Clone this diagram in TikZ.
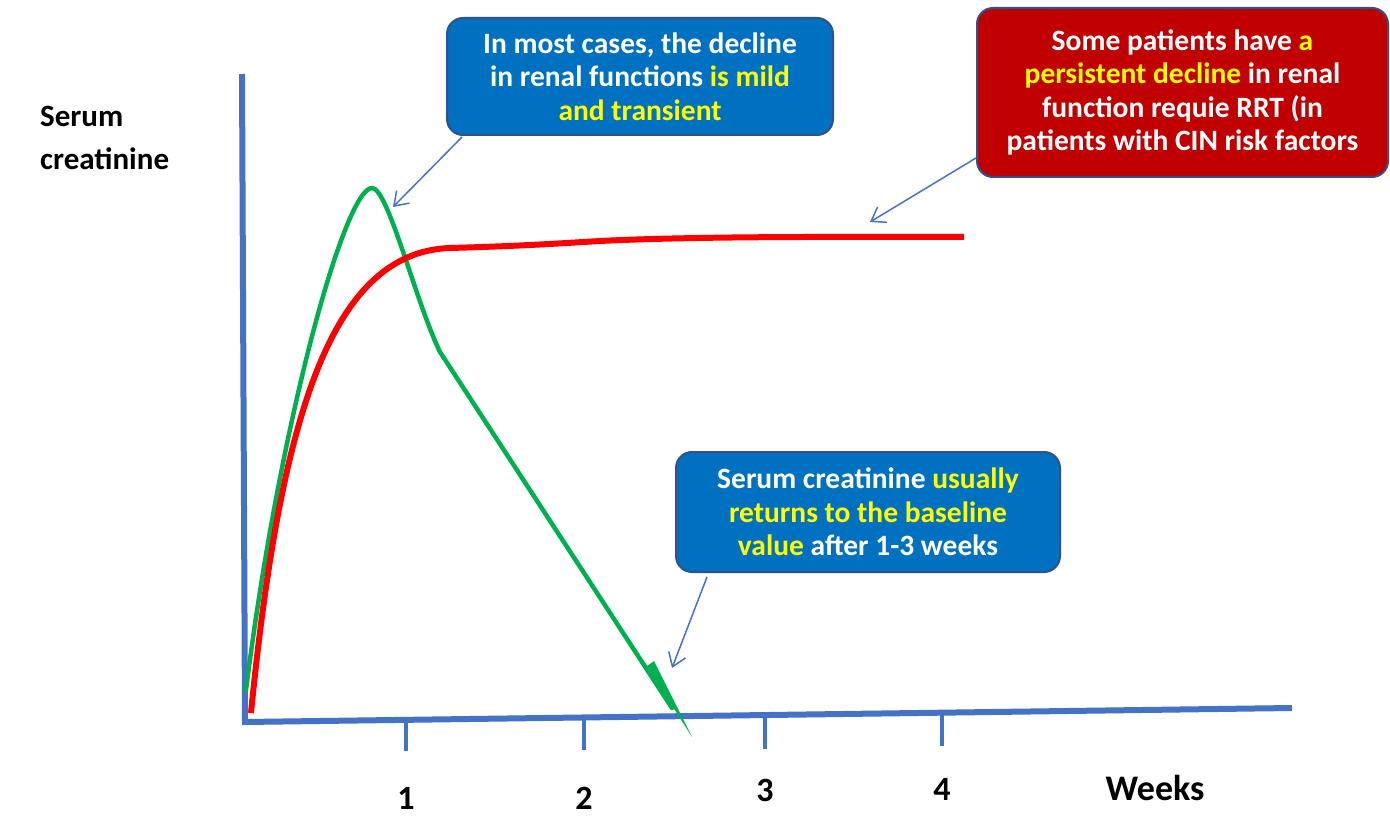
\documentclass[tikz,border=0pt]{standalone}
\usepackage{fontspec}
\setmainfont{Carlito}
\usetikzlibrary{arrows.meta}
\definecolor{axisblue}{HTML}{4472C4}
\definecolor{boxblue}{HTML}{0070C0}
\definecolor{boxred}{HTML}{C00000}
\definecolor{boxborder}{HTML}{2F528F}
\definecolor{curvegreen}{HTML}{00B050}
\definecolor{curvered}{HTML}{FF0000}
\definecolor{hl}{HTML}{FFFF00}
\tikzset{
  axisline/.style={draw=axisblue,line width=6pt},
  tickline/.style={draw=axisblue,line width=4pt},
  callout/.style={draw=boxborder,line width=2pt,rounded corners=16pt,text=white,align=center,
    font=\fontsize{29.5}{33.5}\selectfont\bfseries,inner sep=0pt},
  pointer/.style={draw=axisblue,line width=1.5pt,-{Straight Barb[length=13pt,width=18pt,line width=1.5pt]}},
  ticklabel/.style={font=\fontsize{34}{36}\selectfont\bfseries,text=black},
  axislabel/.style={font=\fontsize{31}{43}\selectfont\bfseries,text=black,align=left}
}
\begin{document}
\begin{tikzpicture}[x=1pt,y=-1pt]
\useasboundingbox (0,0) rectangle (1390,821);
% axes
\coordinate (ytop) at (242,74);
\coordinate (origin) at (245,722);
\coordinate (xend) at (1292,708);
\draw[axisline] (ytop) -- (origin) -- (xend);
% ticks
\coordinate (t1a) at (406,721); \coordinate (t1b) at (406,751);
\coordinate (t2a) at (584,719); \coordinate (t2b) at (584,750);
\coordinate (t3a) at (765,717); \coordinate (t3b) at (765,749);
\coordinate (t4a) at (942,715); \coordinate (t4b) at (942,746);
\draw[tickline] (t1a) -- (t1b);
\draw[tickline] (t2a) -- (t2b);
\draw[tickline] (t3a) -- (t3b);
\draw[tickline] (t4a) -- (t4b);
\node[ticklabel] (l1) at (406,798) {1};
\node[ticklabel] (l2) at (584,798) {2};
\node[ticklabel] (l3) at (765,790) {3};
\node[ticklabel] (l4) at (942,789) {4};
\node[ticklabel,font=\fontsize{36}{38}\selectfont\bfseries] (weeks) at (1155,788) {Weeks};
\node[axislabel,anchor=west,inner sep=0pt] (ylab) at (40,138) {Serum\\creatinine};
% green curve
\draw[curvegreen,line width=4.5pt,line cap=round] (246,690) .. controls (280,420) and (345,188) .. (372,188)
  .. controls (388,188) and (415,300) .. (440,352) -- (672,708);
\fill[curvegreen] (647,666) -- (654,661) -- (692,737) -- cycle;
% red curve
\draw[curvered,line width=6pt] (251,713) .. controls (280,420) and (330,252) .. (450,248)
  .. controls (520,246) and (550,244) .. (600,241)
  .. controls (700,236) and (850,237) .. (964,237);
% callouts
\node[callout,fill=boxblue,minimum width=386pt,minimum height=117pt] (c1) at (640,76.5)
  {In most cases, the decline\\in renal functions \textcolor{hl}{is mild}\\\textcolor{hl}{and transient}};
\node[callout,fill=boxred,minimum width=411pt,minimum height=169pt] (c2) at (1182.5,92.5)
  {Some patients have \textcolor{hl}{a}\\\textcolor{hl}{persistent decline} in renal\\function requie RRT (in\\patients with CIN risk factors};
\node[callout,fill=boxblue,minimum width=384pt,minimum height=120pt] (c3) at (868,512)
  {Serum creatinine \textcolor{hl}{usually}\\\textcolor{hl}{returns to the baseline}\\\textcolor{hl}{value} after 1-3 weeks};
% pointers
\coordinate (p1) at (393,207);
\coordinate (p2) at (870,222);
\coordinate (p3) at (672,668);
\draw[pointer] ([xshift=16pt,yshift=-1pt]c1.south west) -- (p1);
\draw[pointer] ([yshift=20pt]c2.south west) -- (p2);
\draw[pointer] ([xshift=32pt,yshift=-4pt]c3.south west) -- (p3);
\end{tikzpicture}
\end{document}
